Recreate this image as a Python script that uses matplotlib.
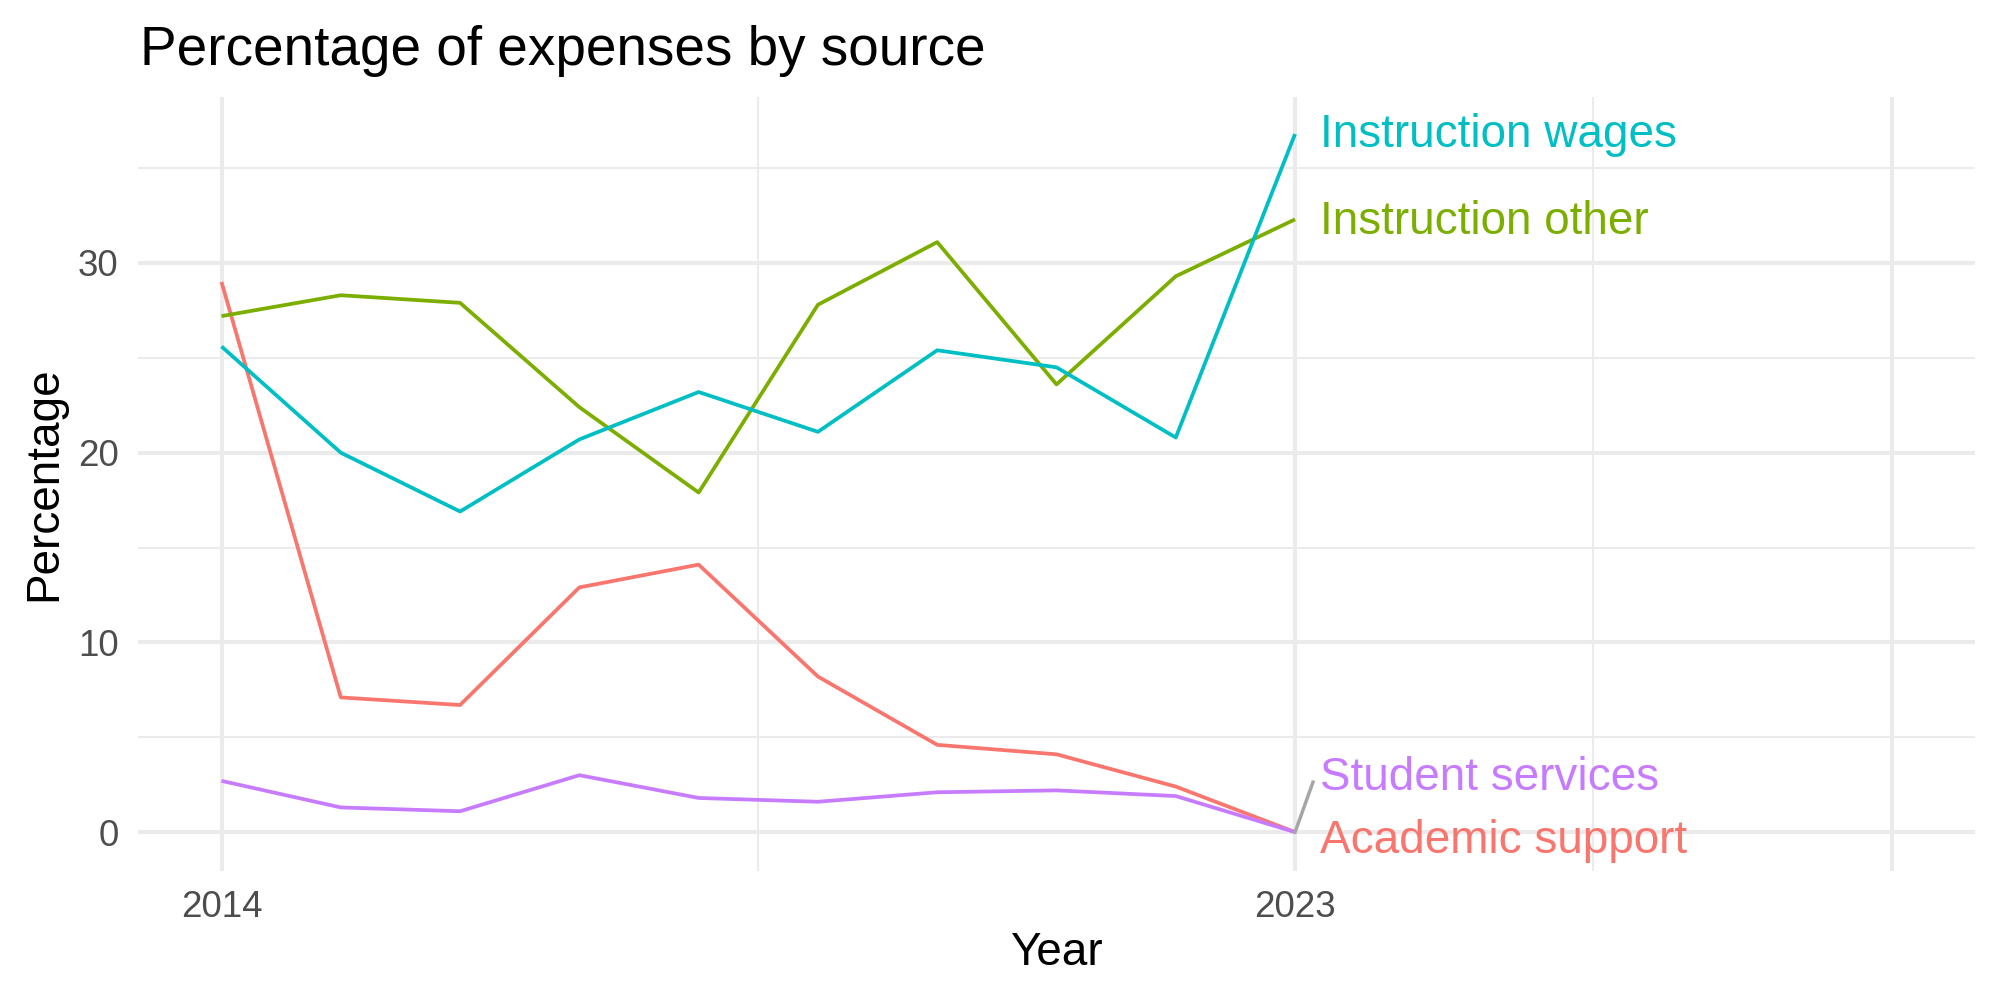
import matplotlib
matplotlib.use("Agg")
import matplotlib.pyplot as plt

years = [2014, 2015, 2016, 2017, 2018, 2019, 2020, 2021, 2022, 2023]
academic_support = [29.0, 7.1, 6.7, 12.9, 14.1, 8.2, 4.6, 4.1, 2.4, 0.0]
instruction_other = [27.2, 28.3, 27.9, 22.4, 17.9, 27.8, 31.1, 23.6, 29.3, 32.3]
instruction_wages = [25.6, 20.0, 16.9, 20.7, 23.2, 21.1, 25.4, 24.5, 20.8, 36.8]
student_services = [2.7, 1.3, 1.1, 3.0, 1.8, 1.6, 2.1, 2.2, 1.9, 0.0]

series_names = ["Academic support", "Instruction other", "Instruction wages", "Student services"]
series_values = [academic_support, instruction_other, instruction_wages, student_services]
colors = ["#F8766D", "#7CAE00", "#00BFC4", "#C77CFF"]
# label positions (repelled) : x, y
label_x = [2023.21, 2023.21, 2023.21, 2023.21]
label_y = [-0.47, 32.17, 36.75, 2.85]

x_major = [2014, 2023, 2028]
x_labels = ["2014", "2023", ""]
x_minor = [2018.5, 2025.5]
y_major = [0, 10, 20, 30]
y_minor = [5, 15, 25, 35]

plt.rcParams['font.family'] = ['Liberation Sans', 'DejaVu Sans']

fig = plt.figure(figsize=(20, 10), dpi=100)
ax = fig.add_axes([138/2000, 1 - 871/1000, (1975-138)/2000, (871-97)/1000])

grid_c = "#EBEBEB"
for v in x_major:
    ax.axvline(v, color=grid_c, lw=2.9, zorder=0)
for v in x_minor:
    ax.axvline(v, color=grid_c, lw=1.45, zorder=0)
for v in y_major:
    ax.axhline(v, color=grid_c, lw=2.9, zorder=0)
for v in y_minor:
    ax.axhline(v, color=grid_c, lw=1.45, zorder=0)

for name, vals, c in zip(series_names, series_values, colors):
    ax.plot(years, vals, color=c, lw=2.7, zorder=2, solid_capstyle='butt')

# connector segment for Student services label
ax.plot([years[-1], 2023.15], [student_services[-1], 2.63], color="#A6A6A6", lw=2.5, zorder=3)

for name, c, lx, ly in zip(series_names, colors, label_x, label_y):
    ax.text(lx, ly, name, color=c, fontsize=33, ha='left', va='center', zorder=4)

ax.set_xlim(2013.3, 2028.7)
ax.set_ylim(-2.05, 38.75)
ax.set_xticks(x_major)
ax.set_xticklabels(x_labels)
ax.set_yticks(y_major)
ax.tick_params(axis='both', length=0, labelsize=26.5, labelcolor="#4D4D4D")
ax.tick_params(axis='x', pad=14)
ax.tick_params(axis='y', pad=14)
for s in ax.spines.values():
    s.set_visible(False)

ax.set_xlabel("Year", fontsize=33, labelpad=4)
ax.set_ylabel("Percentage", fontsize=33, labelpad=8)
fig.text(140/2000, 1 - 51/1000, "Percentage of expenses by source", fontsize=39.5,
         ha='left', va='center')

fig.savefig("out.png", dpi=100)
